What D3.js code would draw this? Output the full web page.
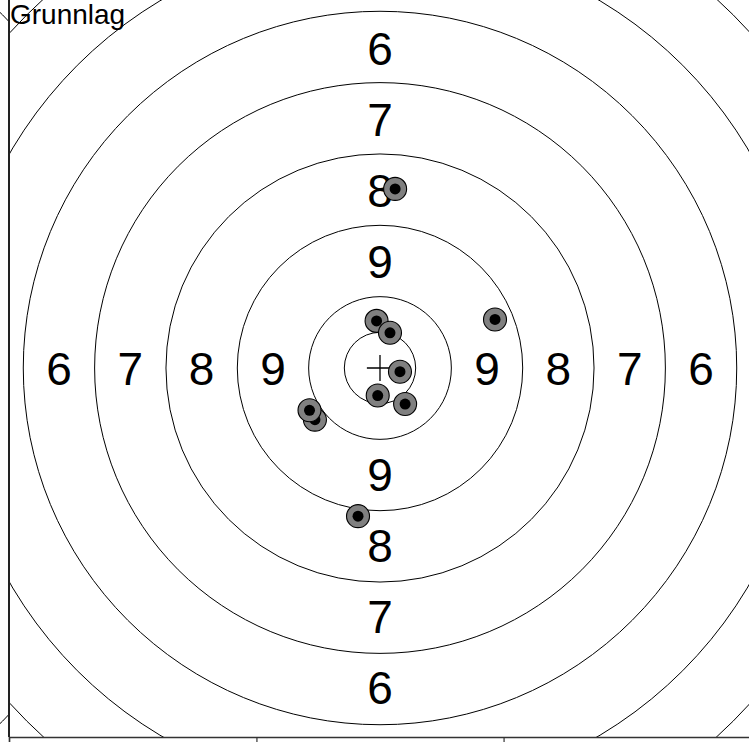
<!DOCTYPE html>
<html>
<head>
<meta charset="utf-8">
<script src="https://cdn.jsdelivr.net/npm/d3@7"></script>
<style>
  html, body { margin: 0; padding: 0; background: #fff; }
  svg { display: block; font-family: "Liberation Sans", Arial, sans-serif; }
</style>
</head>
<body>
<script>
// target geometry, mm (25m pistol style target)
const ringScores = [10, 9, 8, 7, 6, 5, 4, 3, 2, 1];
const ringRadii = [25, 50, 75, 100, 125, 150, 175, 200, 225, 250];
const innerTenRadius = 12.5;

// labels shown in the four directions
const labelScores = [9, 8, 7, 6];

// shots (mm from centre, y up), in the order they were drawn
const shotX = [5.3, 40.3, -1.2, 3.5, 7.0, -0.8, 8.8, -22.8, -24.7, -7.7];
const shotY = [63.1, 17.1, 16.6, 12.4, -1.3, -9.7, -12.7, -18.2, -14.9, -52.2];

// axis
const xTickValues = [-130, -43.3, 43.3, 130];
const axisDomain = [-130, 130];
const neighbourOffset = -256; // next target to the left (mm)

const title = 'Grunnlag';

const width = 749, height = 742;

const svg = d3.select(document.body).append('svg')
  .attr('width', width)
  .attr('height', height);

const x = d3.scaleLinear().domain(axisDomain).range([9, 751]);
const y = d3.scaleLinear().domain(axisDomain).range([737, -1]);
const r = d => x(d) - x(0);

const defs = svg.append('defs');
defs.append('clipPath').attr('id', 'plot')
  .append('rect')
  .attr('x', x(axisDomain[0])).attr('y', y(axisDomain[1]))
  .attr('width', x(axisDomain[1]) - x(axisDomain[0]))
  .attr('height', y(axisDomain[0]) - y(axisDomain[1]));
defs.append('clipPath').attr('id', 'left')
  .append('rect')
  .attr('x', -10).attr('y', 0)
  .attr('width', x(axisDomain[0]) + 10).attr('height', height);

// neighbouring target, only its outer rings reach into view
svg.append('g')
  .attr('clip-path', 'url(#left)')
  .selectAll('circle')
  .data(ringRadii.filter(d => d >= 175))
  .enter().append('circle')
  .attr('cx', x(neighbourOffset))
  .attr('cy', y(0))
  .attr('r', d => r(d))
  .attr('fill', 'none')
  .attr('stroke', '#000')
  .attr('stroke-width', 1);

const plot = svg.append('g').attr('clip-path', 'url(#plot)');

// rings
plot.selectAll('circle.ring')
  .data([innerTenRadius].concat(ringRadii))
  .enter().append('circle')
  .attr('class', 'ring')
  .attr('cx', x(0))
  .attr('cy', y(0))
  .attr('r', d => r(d))
  .attr('fill', 'none')
  .attr('stroke', '#000')
  .attr('stroke-width', 1);

// ring numbers, placed mid ring on each side
const dirs = [[0, 1], [0, -1], [-1, 0], [1, 0]];
const labels = [];
labelScores.forEach(s => {
  const i = ringScores.indexOf(s);
  const mid = (ringRadii[i] + ringRadii[i - 1]) / 2;
  dirs.forEach(d => labels.push({s, x: d[0] * mid, y: d[1] * mid}));
});

plot.selectAll('text.num')
  .data(labels)
  .enter().append('text')
  .attr('class', 'num')
  .attr('x', d => x(d.x))
  .attr('y', d => y(d.y))
  .attr('dy', '0.36em')
  .attr('text-anchor', 'middle')
  .style('font-size', '46px')
  .text(d => d.s);

// centre cross
const c = 4.6;
plot.append('path')
  .attr('d', `M${x(-c)},${y(0)}H${x(c)}M${x(0)},${y(c)}V${y(-c)}`)
  .attr('stroke', '#000')
  .attr('stroke-width', 1.3);

// shots
const shots = plot.selectAll('g.shot')
  .data(shotX.map((v, i) => ({x: v, y: shotY[i]})))
  .enter().append('g')
  .attr('class', 'shot')
  .attr('transform', d => `translate(${x(d.x)},${y(d.y)})`);
shots.append('circle')
  .attr('r', 11.5)
  .attr('fill', '#808080')
  .attr('stroke', '#000')
  .attr('stroke-width', 1.1);
shots.append('circle')
  .attr('r', 5.5)
  .attr('fill', '#000');

// axes: left and bottom spines
svg.append('line')
  .attr('x1', x(axisDomain[0])).attr('x2', x(axisDomain[0]))
  .attr('y1', 0).attr('y2', y(axisDomain[0]))
  .attr('stroke', '#222').attr('stroke-width', 2);

const xAxis = svg.append('g')
  .attr('transform', `translate(0,${y(axisDomain[0])})`)
  .call(d3.axisBottom(x).tickValues(xTickValues).tickSize(6).tickFormat(''));
xAxis.select('.domain').attr('stroke', '#333').attr('stroke-width', 1.5);
xAxis.selectAll('.tick line').attr('stroke', '#333').attr('stroke-width', 1.2);

// title
svg.append('text')
  .attr('x', 10)
  .attr('y', 24)
  .style('font-size', '28px')
  .text(title);
</script>
</body>
</html>
